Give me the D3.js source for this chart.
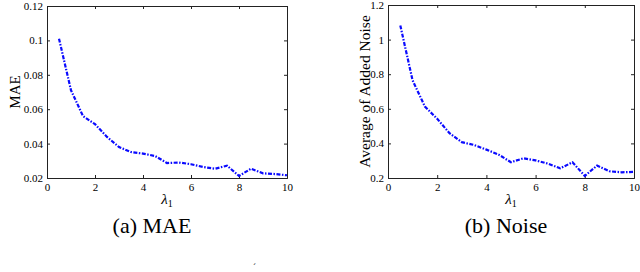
<!DOCTYPE html>
<html>
<head>
<meta charset="utf-8">
<script src="https://cdn.jsdelivr.net/npm/d3@7"></script>
<style>
body{margin:0;background:#fff;}
svg text{font-family:"Liberation Serif","DejaVu Serif",serif;fill:#000;}
</style>
</head>
<body>
<script>
const lambdas=[0.5,1,1.5,2,2.5,3,3.5,4,4.5,5,5.5,6,6.5,7,7.5,8,8.5,9,9.5,10];
const maeVals=[0.101,0.071,0.056,0.0513,0.0439,0.038,0.0351,0.0342,0.0328,0.0287,0.029,0.028,0.0264,0.0254,0.0272,0.0212,0.0254,0.0227,0.0223,0.0216];
const noiseVals=[1.082,0.764,0.613,0.542,0.459,0.407,0.391,0.364,0.335,0.291,0.314,0.302,0.283,0.256,0.291,0.212,0.272,0.239,0.233,0.235];
const xTicks=[0,2,4,6,8,10];
const maeTicks=[0.02,0.04,0.06,0.08,0.1,0.12];
const noiseTicks=[0.2,0.4,0.6,0.8,1,1.2];
const serif='"Liberation Serif","DejaVu Serif",serif';

const svg=d3.select("body").append("svg").attr("width",640).attr("height",272)
    .style("font-family",serif);

const panel=(box,vals,yDom,yTicks,yLabel,yLabelX,caption)=>{
    const x=d3.scaleLinear().domain([0,10]).range([box.l,box.r]);
    const y=d3.scaleLinear().domain(yDom).range([box.b,box.t]);
    const g=svg.append("g");
    // inward ticks, both sides
    g.append("g").attr("transform",`translate(0,${box.b})`)
     .call(d3.axisBottom(x).tickValues(xTicks).tickSize(-3).tickPadding(5).tickFormat(d3.format("d")));
    g.append("g").attr("transform",`translate(0,${box.t})`)
     .call(d3.axisTop(x).tickValues(xTicks).tickSize(-3).tickFormat(""));
    g.append("g").attr("transform",`translate(${box.l},0)`)
     .call(d3.axisLeft(y).tickValues(yTicks).tickSize(-3).tickPadding(4).tickFormat(d=>String(+d.toFixed(2))));
    g.append("g").attr("transform",`translate(${box.r},0)`)
     .call(d3.axisRight(y).tickValues(yTicks).tickSize(-3).tickFormat(""));
    g.selectAll("g").attr("font-family",serif);
    g.selectAll(".domain").attr("stroke","#222").attr("stroke-width",1);
    g.selectAll(".tick line").attr("stroke","#222");
    g.selectAll(".tick text").style("font-size","11px").attr("fill","#111");
    g.append("path")
     .datum(lambdas.map((l,i)=>[l,vals[i]]))
     .attr("d",d3.line().x(d=>x(d[0])).y(d=>y(d[1])))
     .attr("fill","none").attr("stroke","#0a0aff").attr("stroke-width",2.2)
     .attr("stroke-dasharray","4,1.5,1.5,1.5");
    g.append("text").attr("transform",`translate(${yLabelX},${(box.t+box.b)/2}) rotate(-90)`)
     .attr("text-anchor","middle").attr("dy","0.35em").style("font-size",yLabel.size+"px").text(yLabel.text);
    const lx=(box.l+box.r)/2;
    const lt=g.append("text").attr("x",lx).attr("y",204).attr("text-anchor","middle").style("font-size","15px");
    lt.append("tspan").style("font-style","italic").text("λ");
    lt.append("tspan").attr("dy",3).style("font-size","10px").text("1");
    g.append("text").attr("x",caption.x).attr("y",233).attr("text-anchor","middle").style("font-size","22px").text(caption.text);
};

panel({l:47,r:287,t:6,b:178},maeVals,[0.02,0.12],maeTicks,{text:"MAE",size:15},15,{text:"(a) MAE",x:152});
panel({l:388,r:634,t:5,b:178},noiseVals,[0.2,1.2],noiseTicks,{text:"Average of Added Noise",size:15.5},365,{text:"(b) Noise",x:506});
svg.append("text").attr("x",253).attr("y",270).style("font-size","9px").attr("fill","#555").text("´");
</script>
</body>
</html>
